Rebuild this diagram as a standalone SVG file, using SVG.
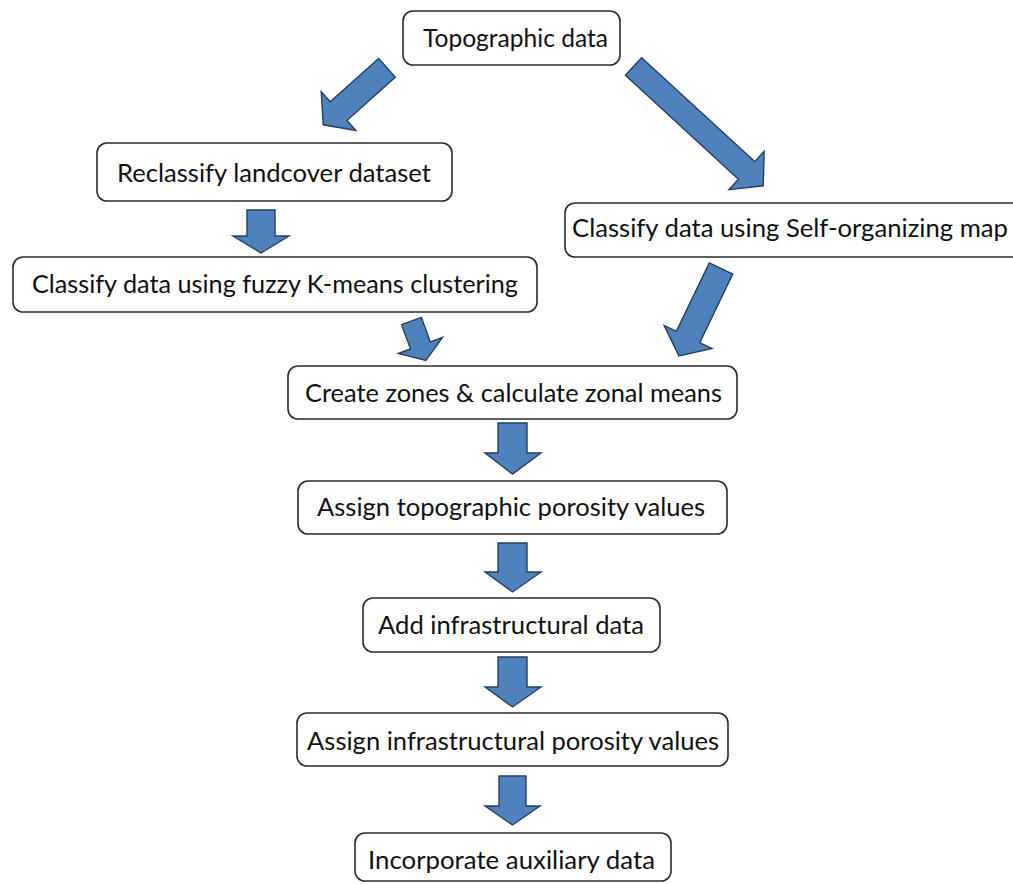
<svg xmlns="http://www.w3.org/2000/svg" width="1013" height="884" viewBox="0 0 1013 884">
<style>
.box{fill:#ffffff;stroke:#2b2b2b;stroke-width:1.6}
.lbl{font-family:Lato,"Liberation Sans",sans-serif;font-size:25px;fill:#111111}
.arr{fill:#4f81bd;stroke:#243f60;stroke-width:1.4;stroke-linejoin:miter}
</style>
<rect x="0" y="0" width="1013" height="884" fill="#ffffff"/>
<g id="connectors">
<path class="arr" transform="translate(387,67.8) rotate(48.2)" d="M-12.5,0 L12.5,0 L12.5,65 L26,65 L0,85.5 L-26,65 L-12.5,65 Z"/>
<path class="arr" transform="translate(633.5,66.5) rotate(-47.4)" d="M-12,0 L12,0 L12,153.6 L26,153.6 L0,176.2 L-26,153.6 L-12,153.6 Z"/>
<path class="arr" d="M247,210 L275,210 L275,236 L289,236 L261,253 L233,236 L247,236 Z"/>
<path class="arr" transform="translate(411.5,321) rotate(-20)" d="M-10.5,0 L10.5,0 L10.5,26 L23.5,26 L0,42 L-23.5,26 L-10.5,26 Z"/>
<path class="arr" transform="translate(721,268.5) rotate(25.7)" d="M-13,0 L13,0 L13,76 L26.5,76 L0,97 L-26.5,76 L-13,76 Z"/>
<path class="arr" d="M498,423 L527,423 L527,453 L541,453 L512.5,474 L485,453 L498,453 Z"/>
<path class="arr" d="M498,543 L527,543 L527,572 L541,572 L512.5,592 L485,572 L498,572 Z"/>
<path class="arr" d="M498,657 L527,657 L527,687 L541,687 L512.5,707 L485,687 L498,687 Z"/>
<path class="arr" d="M499,776 L526,776 L526,806 L540,806 L512.5,825 L485,806 L499,806 Z"/>
</g>
<g id="n-topo">
<rect class="box" x="403" y="11" width="217" height="54" rx="10"/>
<text class="lbl" x="423" y="47" textLength="185" lengthAdjust="spacingAndGlyphs">Topographic data</text>
</g>
<g id="n-reclass">
<rect class="box" x="97" y="143" width="355" height="58" rx="10"/>
<text class="lbl" x="117" y="182" textLength="314" lengthAdjust="spacingAndGlyphs">Reclassify landcover dataset</text>
</g>
<g id="n-som">
<rect class="box" x="565" y="203" width="470" height="54" rx="10"/>
<text class="lbl" x="572" y="237" textLength="436" lengthAdjust="spacingAndGlyphs">Classify data using Self-organizing map</text>
</g>
<g id="n-fuzzy">
<rect class="box" x="13" y="257" width="524" height="55" rx="10"/>
<text class="lbl" x="32" y="293" textLength="486" lengthAdjust="spacingAndGlyphs">Classify data using fuzzy K-means clustering</text>
</g>
<g id="n-zones">
<rect class="box" x="288" y="366" width="449" height="53" rx="10"/>
<text class="lbl" x="305" y="402" textLength="417" lengthAdjust="spacingAndGlyphs">Create zones &amp; calculate zonal means</text>
</g>
<g id="n-topopor">
<rect class="box" x="298" y="481" width="429" height="53" rx="10"/>
<text class="lbl" x="317" y="516" textLength="388" lengthAdjust="spacingAndGlyphs">Assign topographic porosity values</text>
</g>
<g id="n-addinfra">
<rect class="box" x="363" y="598" width="297" height="54" rx="10"/>
<text class="lbl" x="378" y="634" textLength="266" lengthAdjust="spacingAndGlyphs">Add infrastructural data</text>
</g>
<g id="n-infrapor">
<rect class="box" x="297" y="713" width="431" height="53" rx="10"/>
<text class="lbl" x="307" y="750" textLength="412" lengthAdjust="spacingAndGlyphs">Assign infrastructural porosity values</text>
</g>
<g id="n-aux">
<rect class="box" x="355" y="833" width="316" height="48" rx="10"/>
<text class="lbl" x="368" y="869" textLength="287" lengthAdjust="spacingAndGlyphs">Incorporate auxiliary data</text>
</g>
</svg>
